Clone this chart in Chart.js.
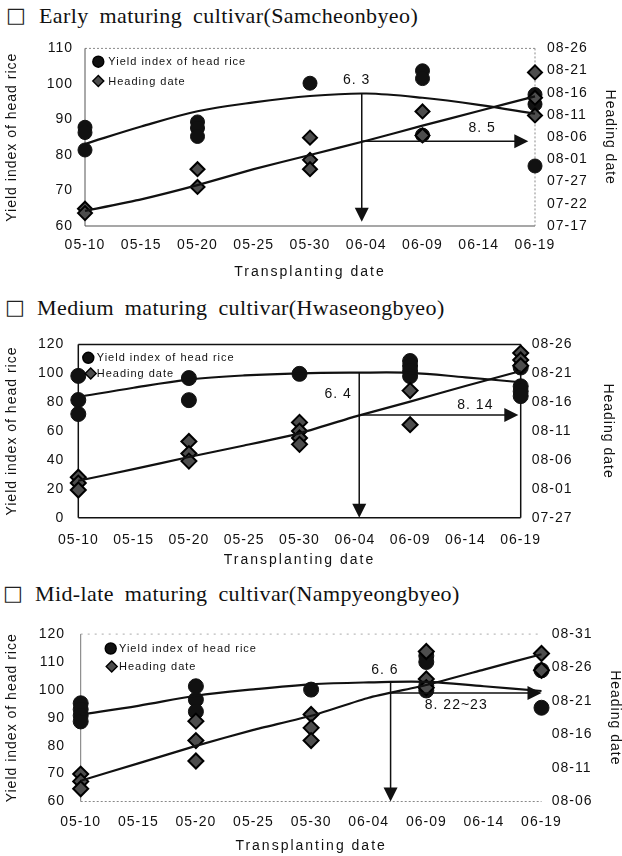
<!DOCTYPE html>
<html>
<head>
<meta charset="utf-8">
<script src="https://cdn.jsdelivr.net/npm/chart.js@4/dist/chart.umd.min.js"></script>
<style>
html,body{margin:0;padding:0;background:#fff;}
body{width:622px;height:856px;position:relative;overflow:hidden;}
.ttl{position:absolute;font-family:"Liberation Serif","Times New Roman",serif;font-size:22px;line-height:22px;white-space:nowrap;color:#111;word-spacing:5px;letter-spacing:0.4px;}
.box{position:absolute;font-family:"DejaVu Sans",sans-serif;font-size:21px;line-height:22px;color:#222;}
canvas{position:absolute;left:0;}
</style>
</head>
<body>
<div class="box" style="left:6px;top:4px">□</div>
<div class="ttl" style="left:39px;top:5px">Early maturing cultivar(Samcheonbyeo)</div>
<canvas id="c1" width="622" height="257" style="top:28px"></canvas>

<div class="box" style="left:5px;top:296px">□</div>
<div class="ttl" style="left:37px;top:297px">Medium maturing cultivar(Hwaseongbyeo)</div>
<canvas id="c2" width="622" height="250" style="top:322px"></canvas>

<div class="box" style="left:3px;top:582px">□</div>
<div class="ttl" style="left:35px;top:583px">Mid-late maturing cultivar(Nampyeongbyeo)</div>
<canvas id="c3" width="622" height="246" style="top:610px"></canvas>

<script>
// ---------------- DATA ----------------
// x: days after 05-10 (transplanting date); heading: days after 07-01
const xTickLabels = ['05-10','05-15','05-20','05-25','05-30','06-04','06-09','06-14','06-19'];
const transplantDays = [0, 10, 20, 30, 40];
const trendDays = [0, 5, 10, 15, 20, 25, 30, 35, 40];
const legendLabels = ['Yield index of head rice', 'Heading date'];

// Early maturing cultivar (Samcheonbyeo)
const earlyYield = [[87.8, 86.3, 81.4], [89.3, 87.6, 85.2], [100.2], [103.7, 101.5, 85.6], [97.0, 94.3, 76.9]];
const earlyHeading = [[19.9, 18.9], [28.8, 24.8], [35.9, 30.9, 28.8], [41.8, 36.4], [50.6, 44.9, 40.9]];
const earlyYieldTrend = [83.1, 88.0, 92.3, 94.8, 96.6, 97.3, 96.1, 94.1, 91.6];
const earlyHeadingTrend = [19.4, 22.0, 25.2, 28.8, 32.0, 35.2, 38.6, 41.9, 45.2];
const earlyLeftTicks = [60, 110, 10];
const earlyRightTicks = ['07-17','07-22','07-27','08-01','08-06','08-11','08-16','08-21','08-26'];
const earlyRightRange = [16, 56];
const earlyOptimum = {day: 24.6, yield: 97.3, heading: 35.1};
const earlyNotes = ['6. 3', '8. 5'];

// Medium maturing cultivar (Hwaseongbyeo)
const mediumYield = [[98.2, 81.5, 71.8], [96.7, 81.4], [99.6], [108.5, 105.0, 101.5, 98.0], [104.0, 91.0, 87.5, 84.2]];
const mediumHeading = [[33.0, 32.0, 30.8], [39.2, 37.1, 35.8], [42.5, 41.0, 39.8, 38.7], [48.0, 42.1], [54.5, 53.3, 52.3]];
const mediumYieldTrend = [83.6, 90.0, 95.6, 98.5, 100.0, 100.4, 100.3, 97.2, 93.8];
const mediumHeadingTrend = [32.4, 34.4, 36.5, 38.5, 40.6, 43.5, 46.1, 48.8, 51.4];
const mediumLeftTicks = [0, 120, 20];
const mediumRightTicks = ['07-27','08-01','08-06','08-11','08-16','08-21','08-26'];
const mediumRightRange = [26, 56];
const mediumOptimum = {day: 25.4, yield: 100.4, heading: 43.8};
const mediumNotes = ['6. 4', '8. 14'];

// Mid-late maturing cultivar (Nampyeongbyeo)
const lateYield = [[95.2, 93.0, 90.8, 88.7], [101.3, 96.5, 92.2], [100.1], [112.2, 110.0, 101.5, 99.8], [107.0, 93.6]];
const lateHeading = [[40.1, 39.0, 37.9], [48.0, 45.1, 42.05], [49.0, 47.0, 45.1], [58.4, 54.3, 53.0], [58.1, 55.6]];
const lateYieldTrend = [91.2, 94.3, 97.9, 100.2, 102.0, 102.7, 102.9, 101.3, 99.6];
const lateHeadingTrend = [39.1, 41.7, 44.3, 46.7, 48.8, 51.5, 53.4, 55.7, 58.0];
const lateLeftTicks = [60, 120, 10];
const lateRightTicks = ['08-06','08-11','08-16','08-21','08-26','08-31'];
const lateRightRange = [36, 61];
const lateOptimum = {day: 26.9, yield: 102.9, heading: 52.2};
const lateNotes = ['6. 6', '8. 22~23'];

// ---------------- HELPERS ----------------
const FONT = '"Liberation Sans", Arial, Helvetica, sans-serif';
const INK = '#111';
const DIAMOND_FILL = '#4d4d4d';
function pointsFromGroups(days, groups) {
  const pts = [];
  groups.forEach((g, i) => g.forEach(v => pts.push({x: days[i], y: v})));
  return pts;
}
function pointsFromSeries(days, vals) { return vals.map((v, i) => ({x: days[i], y: v})); }

// letter spacing for canvas text (ticks 1px, titles per axis)
const spacingPlugin = {
  id: 'spacing',
  beforeDraw(chart) { chart.ctx.letterSpacing = '1px'; },
  afterLayout(chart, args, opts) {
    for (const s of Object.values(chart.scales)) {
      if (s.__sp) continue;
      const orig = s.drawTitle;
      const sp = (opts.titles && opts.titles[s.id]) || 1;
      s.drawTitle = function () {
        const c = this.ctx; const prev = c.letterSpacing;
        c.letterSpacing = sp + 'px'; orig.call(this); c.letterSpacing = prev;
      };
      s.__sp = true;
    }
  }
};

// plot frame
const framePlugin = {
  id: 'frame',
  beforeDatasetsDraw(chart, args, o) {
    const {ctx, chartArea: a} = chart;
    const sides = {
      top: [a.left, a.top, a.right, a.top],
      bottom: [a.left, a.bottom, a.right, a.bottom],
      left: [a.left, a.top, a.left, a.bottom],
      right: [a.right, a.top, a.right, a.bottom]
    };
    ctx.save();
    for (const k of Object.keys(sides)) {
      const st = o[k]; if (!st) continue;
      ctx.strokeStyle = st.color; ctx.lineWidth = st.width; ctx.setLineDash(st.dash || []);
      const [x1, y1, x2, y2] = sides[k];
      ctx.beginPath(); ctx.moveTo(x1, y1); ctx.lineTo(x2, y2); ctx.stroke();
    }
    ctx.restore();
  }
};

// legend inside the plot area
const inLegendPlugin = {
  id: 'inLegend',
  afterDatasetsDraw(chart, args, o) {
    const {ctx, chartArea: a} = chart;
    ctx.save();
    ctx.letterSpacing = '1px';
    ctx.font = '11px ' + FONT;
    ctx.textBaseline = 'middle'; ctx.textAlign = 'left';
    o.items.forEach((it, i) => {
      const mx = a.left + it.mx, my = a.top + o.y0 + i * o.gap;
      ctx.fillStyle = it.bg; ctx.strokeStyle = '#000'; ctx.lineWidth = 1.4;
      Chart.helpers.drawPoint(ctx, {pointStyle: it.style, radius: it.r, rotation: 0, borderWidth: 1.4}, mx, my);
      ctx.fillStyle = INK;
      ctx.fillText(it.text, a.left + o.tx, my + 0.5);
    });
    ctx.restore();
  }
};

// optimum arrows + notes
const arrowPlugin = {
  id: 'optArrow',
  afterDatasetsDraw(chart, args, o) {
    const {ctx, chartArea: a, scales: {x, y, y2}} = chart;
    const px = x.getPixelForValue(o.opt.day);
    const pTop = y.getPixelForValue(o.opt.yield);
    const pH = y2.getPixelForValue(o.opt.heading);
    const L = 14, W = 7;
    ctx.save();
    ctx.strokeStyle = INK; ctx.fillStyle = INK; ctx.lineWidth = 1.5;
    const tipV = a.bottom - o.vGap;
    ctx.beginPath(); ctx.moveTo(px, pTop); ctx.lineTo(px, tipV - L + 1); ctx.stroke();
    ctx.beginPath(); ctx.moveTo(px, tipV); ctx.lineTo(px - W, tipV - L); ctx.lineTo(px + W, tipV - L); ctx.closePath(); ctx.fill();
    const tipH = a.right - o.hGap;
    ctx.beginPath(); ctx.moveTo(px, pH); ctx.lineTo(tipH - L + 1, pH); ctx.stroke();
    ctx.beginPath(); ctx.moveTo(tipH, pH); ctx.lineTo(tipH - L, pH - W); ctx.lineTo(tipH - L, pH + W); ctx.closePath(); ctx.fill();
    ctx.letterSpacing = '1px';
    ctx.font = '14px ' + FONT; ctx.textAlign = 'center'; ctx.textBaseline = 'middle';
    o.notes.forEach(n => ctx.fillText(n.text, x.getPixelForValue(n.x), y.getPixelForValue(n.y)));
    ctx.restore();
  }
};

function buildPanel(id, d, g) {
  const tickFont = {family: FONT, size: 14};
  const titleFont = {family: FONT, size: 14, lineHeight: 1};
  return new Chart(document.getElementById(id), {
    type: 'scatter',
    data: {
      datasets: [
        {label: 'yield trend', data: pointsFromSeries(trendDays, d.yieldTrend), yAxisID: 'y', showLine: true,
         borderColor: INK, borderWidth: 2.2, pointRadius: 0, tension: 0.35, fill: false, clip: false},
        {label: 'heading trend', data: pointsFromSeries(trendDays, d.headingTrend), yAxisID: 'y2', showLine: true,
         borderColor: INK, borderWidth: 2.2, pointRadius: 0, tension: 0.15, fill: false, clip: false},
        {label: legendLabels[1], data: pointsFromGroups(transplantDays, d.heading), yAxisID: 'y2',
         pointStyle: 'rectRot', pointRadius: g.dR, backgroundColor: DIAMOND_FILL, borderColor: '#000', borderWidth: 2, clip: false},
        {label: legendLabels[0], data: pointsFromGroups(transplantDays, d.yield), yAxisID: 'y',
         pointStyle: 'circle', pointRadius: g.cR, backgroundColor: INK, borderColor: INK, borderWidth: 1, clip: false}
      ]
    },
    options: {
      responsive: false, animation: false, devicePixelRatio: 1,
      layout: {padding: {left: 0, top: g.padTop, right: g.padRight, bottom: 0}},
      plugins: {
        legend: {display: false}, tooltip: {enabled: false},
        spacing: {titles: {x: 2, y: 1, y2: 1}},
        frame: g.frame,
        inLegend: {y0: g.leg.y0, gap: g.leg.gap, tx: g.leg.tx, items: [
          {text: legendLabels[0], style: 'circle', r: 5.5, bg: INK, mx: g.leg.cx},
          {text: legendLabels[1], style: 'rectRot', r: 5.5, bg: DIAMOND_FILL, mx: g.leg.dx}
        ]},
        optArrow: {opt: d.opt, vGap: g.vGap, hGap: g.hGap, notes: [
          {text: d.notes[0], x: g.n1[0], y: g.n1[1]},
          {text: d.notes[1], x: g.n2[0], y: g.n2[1]}
        ]}
      },
      scales: {
        x: {
          type: 'linear', position: 'bottom', min: 0, max: 40,
          ticks: {stepSize: 5, autoSkip: false, maxRotation: 0, padding: g.xTickPad, color: INK, font: tickFont,
                  callback: (v, i) => xTickLabels[i]},
          grid: {display: false, drawTicks: false}, border: {display: false},
          title: {display: true, text: 'Transplanting date', color: INK, font: titleFont, padding: {top: 0, bottom: g.xTitlePad}},
          afterFit: s => { s.height = g.xH; }
        },
        y: {
          type: 'linear', position: 'left', min: d.left[0], max: d.left[1],
          ticks: {stepSize: d.left[2], padding: g.yTickPad, color: INK, font: tickFont},
          grid: {display: false, drawTicks: false}, border: {display: false},
          title: {display: true, text: 'Yield index of head rice', color: INK, font: titleFont, padding: {top: g.yTitlePad, bottom: 0}},
          afterFit: s => { s.width = g.yW; }
        },
        y2: {
          type: 'linear', position: 'right', min: d.right[0], max: d.right[1],
          ticks: {stepSize: 5, padding: g.y2TickPad, color: INK, font: tickFont, callback: (v, i) => d.rightLabels[i]},
          grid: {display: false, drawTicks: false}, border: {display: false},
          title: {display: true, text: 'Heading date', color: INK, font: titleFont, padding: {top: g.y2TitlePad, bottom: 0}},
          afterFit: s => { s.width = g.y2W; }
        }
      }
    },
    plugins: [spacingPlugin, framePlugin, inLegendPlugin, arrowPlugin]
  });
}

// ---------------- PANELS ----------------
buildPanel('c1', {
  yield: earlyYield, heading: earlyHeading, yieldTrend: earlyYieldTrend, headingTrend: earlyHeadingTrend,
  left: earlyLeftTicks, right: earlyRightRange, rightLabels: earlyRightTicks, opt: earlyOptimum, notes: earlyNotes
}, {
  padTop: 12, padRight: 2, yW: 85, y2W: 85, xH: 59,
  yTickPad: 12, y2TickPad: 12, xTickPad: 10.6, yTitlePad: 5, y2TitlePad: 3, xTitlePad: 6,
  cR: 7, dR: 7, vGap: 4.3, hGap: 6.7,
  n1: [24.15, 101.0], n2: [35.3, 87.6],
  leg: {y0: 13.3, gap: 19.4, cx: 13.3, dx: 13.3, tx: 23.3},
  frame: {
    top: {color: '#8a8a8a', width: 1, dash: [2, 2]},
    right: {color: '#8a8a8a', width: 1, dash: [2, 2]},
    left: {color: '#555', width: 1},
    bottom: {color: '#8a8a8a', width: 1.5}
  }
});

buildPanel('c2', {
  yield: mediumYield, heading: mediumHeading, yieldTrend: mediumYieldTrend, headingTrend: mediumHeadingTrend,
  left: mediumLeftTicks, right: mediumRightRange, rightLabels: mediumRightTicks, opt: mediumOptimum, notes: mediumNotes
}, {
  padTop: 12.3, padRight: 4, yW: 78.3, y2W: 97.3, xH: 54.3,
  yTickPad: 14, y2TickPad: 11, xTickPad: 13.9, yTitlePad: 5, y2TitlePad: 2.7, xTitlePad: 5,
  cR: 7.5, dR: 7.5, vGap: 0, hGap: 2.4,
  n1: [23.5, 85.7], n2: [35.9, 77.7],
  leg: {y0: 13.4, gap: 15.6, cx: 10, dx: 12.4, tx: 18.4},
  frame: {
    top: {color: INK, width: 1.5}, right: {color: INK, width: 1.5},
    left: {color: INK, width: 1.5}, bottom: {color: INK, width: 1.5}
  }
});

buildPanel('c3', {
  yield: lateYield, heading: lateHeading, yieldTrend: lateYieldTrend, headingTrend: lateHeadingTrend,
  left: lateLeftTicks, right: lateRightRange, rightLabels: lateRightTicks, opt: lateOptimum, notes: lateNotes
}, {
  padTop: 13.3, padRight: 0, yW: 80.7, y2W: 80.5, xH: 54.5,
  yTickPad: 15.7, y2TickPad: 10.2, xTickPad: 11.8, yTitlePad: 5, y2TitlePad: 0, xTitlePad: 3,
  cR: 7.5, dR: 7.5, vGap: 0, hGap: 0,
  n1: [26.4, 107.1], n2: [32.6, 94.7],
  leg: {y0: 14.4, gap: 18, cx: 30, dx: 31, tx: 38.3},
  frame: {
    top: {color: '#aaa', width: 1, dash: [2, 5]},
    left: {color: '#777', width: 1},
    bottom: {color: '#888', width: 1, dash: [2, 2]}
  }
});
</script>
</body>
</html>
